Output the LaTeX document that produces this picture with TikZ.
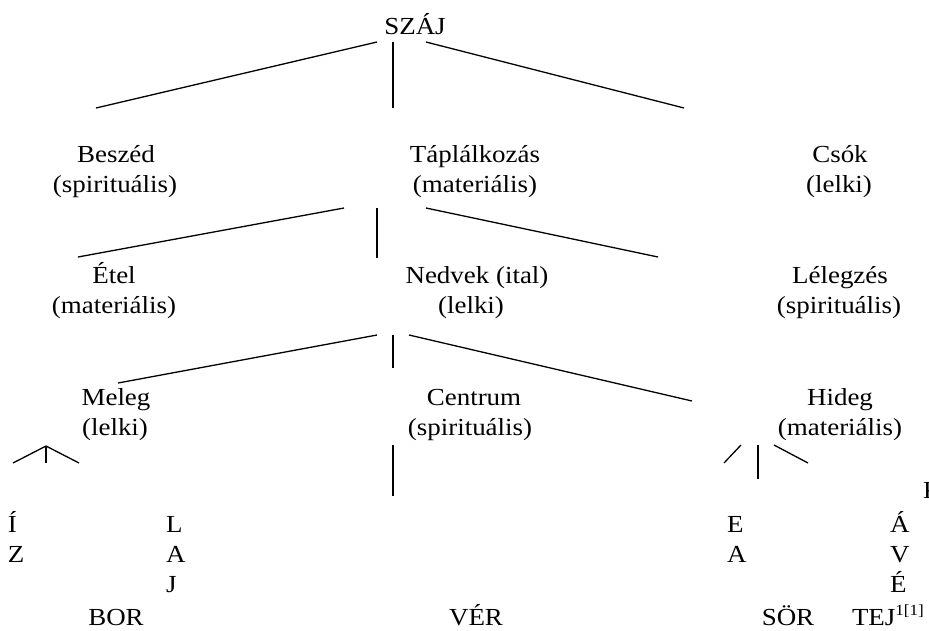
\documentclass[tikz,border=0pt]{standalone}
\usepackage{fontspec}
\setmainfont{Liberation Serif}[FakeStretch=1.1]
\begin{document}
\begin{tikzpicture}[x=1pt,y=-1pt,
  lbl/.style={inner sep=0pt, outer sep=0pt, anchor=base, font=\fontsize{24.5}{30}\selectfont},
  lblw/.style={lbl, anchor=base west},
  conn/.style={line width=1.3pt, line cap=butt}]
\useasboundingbox (0,0) rectangle (929,630);
% ---- labels ----
\node[lbl] (szaj) at (415,34) {SZÁJ};
\node[lbl] (besz1) at (116,162) {Beszéd};
\node[lbl] (besz2) at (115,192) {(spirituális)};
\node[lbl] (tapl1) at (475,162) {Táplálkozás};
\node[lbl] (tapl2) at (475,192) {(materiális)};
\node[lbl] (csok1) at (840,162) {Csók};
\node[lbl] (csok2) at (839,192) {(lelki)};
\node[lbl] (etel1) at (114,283) {Étel};
\node[lbl] (etel2) at (114,313) {(materiális)};
\node[lbl] (nedv1) at (477,283) {Nedvek (ital)};
\node[lbl] (nedv2) at (471,313) {(lelki)};
\node[lbl] (leleg1) at (840,283) {Lélegzés};
\node[lbl] (leleg2) at (839,313) {(spirituális)};
\node[lbl] (mel1) at (116,405) {Meleg};
\node[lbl] (mel2) at (115,435) {(lelki)};
\node[lbl] (cent1) at (474,405) {Centrum};
\node[lbl] (cent2) at (470,435) {(spirituális)};
\node[lbl] (hid1) at (840,405) {Hideg};
\node[lbl] (hid2) at (840,435) {(materiális)};
% bottom letters
\node[lblw] (vi) at (8,532) {Í};
\node[lblw] (vz) at (8,562) {Z};
\node[lblw] (vl) at (166,532) {L};
\node[lblw] (va) at (166,562) {A};
\node[lblw] (vj) at (166,592) {J};
\node[lbl] (bor) at (116,625) {BOR};
\node[lbl] (ver) at (476,625) {VÉR};
\node[lblw] (ve) at (727,532) {E};
\node[lblw] (vea) at (727,562) {A};
\node[lblw] (vk) at (923,498) {K};
\node[lblw] (vaa) at (890,532) {Á};
\node[lblw] (vv) at (890,562) {V};
\node[lblw] (vee) at (890,592) {É};
\node[lbl] (sor) at (788,625) {SÖR};
\node[lblw] (tej) at (852,625) {TEJ\raisebox{10pt}{\fontsize{15.5}{15.5}\selectfont 1[1]}};
% ---- connector end points ----
\coordinate (a1) at (377,42);  \coordinate (a1e) at (96,108);
\coordinate (a2) at (393,42);  \coordinate (a2e) at (393,108);
\coordinate (a3) at (426,42);  \coordinate (a3e) at (684,108);
\coordinate (b1) at (344,208); \coordinate (b1e) at (78,257);
\coordinate (b2) at (377,208); \coordinate (b2e) at (377,258);
\coordinate (b3) at (426,208); \coordinate (b3e) at (658,257);
\coordinate (c1) at (377,335); \coordinate (c1e) at (118,383);
\coordinate (c2) at (393,335); \coordinate (c2e) at (393,368);
\coordinate (c3) at (409,335); \coordinate (c3e) at (692,401);
\coordinate (m0) at (46,446);
\coordinate (m1) at (13,463); \coordinate (m2) at (46,463); \coordinate (m3) at (79,463);
\coordinate (v0) at (393,445); \coordinate (v1) at (393,496);
\coordinate (h1) at (741,445); \coordinate (h1e) at (724,463);
\coordinate (h2) at (758,445); \coordinate (h2e) at (758,479);
\coordinate (h3) at (774,445); \coordinate (h3e) at (808,463);
% ---- connectors ----
\draw[conn] (a1) -- (a1e);
\draw[conn] (a2) -- (a2e);
\draw[conn] (a3) -- (a3e);
\draw[conn] (b1) -- (b1e);
\draw[conn] (b2) -- (b2e);
\draw[conn] (b3) -- (b3e);
\draw[conn] (c1) -- (c1e);
\draw[conn] (c2) -- (c2e);
\draw[conn] (c3) -- (c3e);
\draw[conn] (m1) -- (m0) -- (m3);
\draw[conn] (m0) -- (m2);
\draw[conn] (v0) -- (v1);
\draw[conn] (h1) -- (h1e);
\draw[conn] (h2) -- (h2e);
\draw[conn] (h3) -- (h3e);
\end{tikzpicture}
\end{document}
